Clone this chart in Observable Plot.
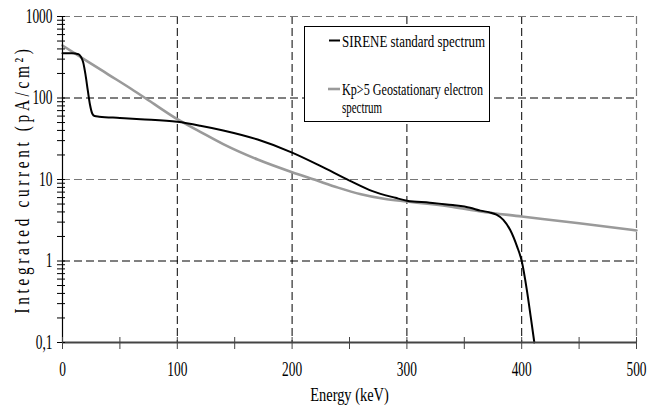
<!DOCTYPE html>
<html><head><meta charset="utf-8">
<script src="https://cdn.jsdelivr.net/npm/d3@7"></script>
<script src="https://cdn.jsdelivr.net/npm/@observablehq/plot@0.6"></script>
<style>
body{margin:0;background:#fff;}
#wrap{position:relative;width:649px;height:412px;}
#legend{position:absolute;left:304px;top:26px;}
svg text{font-family:"Liberation Serif","Times New Roman","DejaVu Serif",serif !important;}
</style></head><body><div id="wrap"></div>
<script>
// SIRENE standard spectrum (black)
const sireneEnergy  = [0, 8, 14, 16, 18, 20, 22, 24, 26, 28, 32, 50, 68, 100, 120, 140, 170, 200, 225, 250, 270, 290, 300, 320, 340, 355, 364, 372, 378, 384, 390, 396, 400, 404.5, 408, 411];
const sireneCurrent = [355, 354, 345, 320, 275, 195, 125, 82, 64, 60, 59, 57, 55, 51, 45.7, 40, 30.9, 21.4, 14.6, 9.7, 7.2, 5.96, 5.5, 5.2, 4.85, 4.5, 4.15, 3.95, 3.7, 3.2, 2.4, 1.5, 1.0, 0.44, 0.2, 0.1];
// Kp>5 Geostationary electron spectrum (gray)
const kpEnergy  = [0, 20, 40, 60, 80, 100, 120, 140, 170, 200, 220, 240, 260, 280, 300, 320, 340, 364, 400, 450, 500];
const kpCurrent = [441, 292, 194, 129, 84, 55, 38.5, 27.2, 17.6, 12.3, 9.9, 7.95, 6.6, 5.8, 5.37, 5.0, 4.6, 4.05, 3.52, 2.9, 2.37];

const seriesNames = ["SIRENE standard spectrum", "Kp>5 Geostationary electron spectrum"];
const xTicks = [0, 100, 200, 300, 400, 500];
const xAllTicks = [0, 50, 100, 150, 200, 250, 300, 350, 400, 450, 500];
const xGridBlack = [100, 200, 300, 400];
const xGridGray = [500];
const yTicks = [0.1, 1, 10, 100, 1000];
const yTickLabels = ["0,1", "1", "10", "100", "1000"];
const yMinorTicks = [0.2,0.3,0.4,0.5,0.6,0.7,0.8,0.9, 2,3,4,5,6,7,8,9, 20,30,40,50,60,70,80,90, 200,300,400,500,600,700,800,900];
const yGridBlack = [1, 100];
const yGridGray = [10, 1000];

const sirene = sireneEnergy.map((e, i) => ({energy: e, current: sireneCurrent[i]}));
const kp = kpEnergy.map((e, i) => ({energy: e, current: kpCurrent[i]}));

const FONT = "'Liberation Serif','Times New Roman','DejaVu Serif',serif";

const plot = Plot.plot({
  width: 649, height: 412,
  marginLeft: 62, marginRight: 13, marginTop: 16, marginBottom: 70,
  style: {fontFamily: FONT, fontSize: "20px", background: "#fff", color: "#000"},
  x: {domain: [0, 500]},
  y: {type: "log", domain: [0.1, 1000]},
  marks: [
    Plot.ruleX(xGridBlack, {stroke: "#000", strokeWidth: 1, strokeDasharray: "8,4"}),
    Plot.ruleX(xGridGray, {stroke: "#777", strokeWidth: 1.2, strokeDasharray: "8,4"}),
    Plot.ruleY(yGridBlack, {stroke: "#000", strokeWidth: 1, strokeDasharray: "8,4"}),
    Plot.ruleY(yGridGray, {stroke: "#777", strokeWidth: 1.2, strokeDasharray: "8,4"}),
    Plot.line(kp, {x: "energy", y: "current", stroke: "#9a9a9a", strokeWidth: 2.6, curve: "monotone-x"}),
    Plot.line(sirene, {x: "energy", y: "current", stroke: "#000", strokeWidth: 2, curve: "monotone-x"}),
    Plot.ruleX([0], {stroke: "#000", strokeWidth: 1.2}),
    Plot.ruleY([0.1], {stroke: "#444", strokeWidth: 2}),
    Plot.axisY(yMinorTicks, {tickSize: 8, dx: 3, text: null, label: null, stroke: "#000"}),
    Plot.axisY(yTicks, {tickSize: 8, dx: 3, text: null, label: null, stroke: "#000"}),
    Plot.axisY(yTicks, {tickSize: 0, tickPadding: 10, tickFormat: d => yTickLabels[yTicks.indexOf(d)],
      label: "Integrated current (pA/cm²)", labelAnchor: "center", labelArrow: "none", labelOffset: 48}),
    Plot.axisX(xAllTicks, {tickSize: 12, dy: -5, text: null, label: null, stroke: "#444"}),
    Plot.axisX(xTicks, {tickSize: 0, tickPadding: 19, label: "Energy (keV)", labelAnchor: "center", labelArrow: "none", labelOffset: 58})
  ]
});
document.getElementById("wrap").appendChild(plot);

// condense the serif text like the reference
plot.querySelectorAll("text").forEach(t => {
  const txt = t.textContent;
  if (txt.startsWith("Integrated")) {
    t.style.fontSize = "21px";
    t.style.letterSpacing = "5px";
    t.setAttribute("lengthAdjust", "spacingAndGlyphs");
    t.setAttribute("textLength", 268);
  } else if (txt.startsWith("Energy")) {
    t.style.fontSize = "18px";
    const L = t.getComputedTextLength();
    t.setAttribute("lengthAdjust", "spacingAndGlyphs");
    t.setAttribute("textLength", L * 0.8);
  } else {
    const L = t.getComputedTextLength();
    t.setAttribute("lengthAdjust", "spacingAndGlyphs");
    t.setAttribute("textLength", L * 0.67);
  }
});

// legend
const lg = d3.select("#wrap").append("svg").attr("id", "legend").attr("width", 187).attr("height", 97)
  .style("font-family", FONT).style("font-size", "17.5px");
lg.append("rect").attr("x", 0.5).attr("y", 0.5).attr("width", 185).attr("height", 95).attr("fill", "#fff").attr("stroke", "#000");
lg.append("line").attr("x1", 25).attr("x2", 36).attr("y1", 14.5).attr("y2", 14.5).attr("stroke", "#000").attr("stroke-width", 2);
lg.append("text").attr("x", 38).attr("y", 21).text(seriesNames[0])
  .attr("lengthAdjust", "spacingAndGlyphs").attr("textLength", 143);
lg.append("line").attr("x1", 24).attr("x2", 36).attr("y1", 63).attr("y2", 63).attr("stroke", "#9a9a9a").attr("stroke-width", 2.6);
lg.append("text").attr("x", 38).attr("y", 69).text("Kp>5 Geostationary electron")
  .attr("lengthAdjust", "spacingAndGlyphs").attr("textLength", 141);
lg.append("text").attr("x", 38).attr("y", 87).text("spectrum")
  .attr("lengthAdjust", "spacingAndGlyphs").attr("textLength", 40);
</script>
</body></html>
